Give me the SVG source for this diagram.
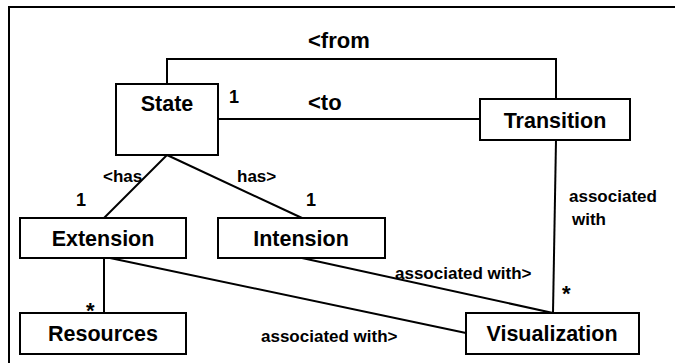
<svg xmlns="http://www.w3.org/2000/svg" width="675" height="363" viewBox="0 0 675 363">
  <style>
    .box { fill: #ffffff; stroke: #000000; stroke-width: 2; }
    .conn { fill: none; stroke: #000000; stroke-width: 2; }
    .frame { fill: none; stroke: #000000; stroke-width: 2; }
    text { font-family: "Liberation Sans", Arial, sans-serif; font-weight: bold; fill: #000000; }
    .title { font-size: 21.5px; text-anchor: middle; }
    .role { font-size: 22px; }
    .lbl { font-size: 17px; }
    .mult { font-size: 18px; }
    .star { font-size: 22px; }
  </style>

  <rect width="675" height="363" fill="#ffffff"/>

  <!-- outer frame (top and left edges) -->
  <polyline class="frame" points="9,363 9,7 675,7"/>

  <!-- associations -->
  <g id="connectors">
    <polyline class="conn" points="167,84 167,59 556,59 556,99"/>
    <line class="conn" x1="218" y1="119" x2="480" y2="119"/>
    <line class="conn" x1="167" y1="155" x2="104" y2="218"/>
    <line class="conn" x1="167" y1="155" x2="302" y2="218"/>
    <line class="conn" x1="556" y1="140" x2="553" y2="313"/>
    <line class="conn" x1="104" y1="258" x2="104" y2="313"/>
    <line class="conn" x1="110" y1="258" x2="466" y2="333"/>
    <line class="conn" x1="302" y1="258" x2="553" y2="313"/>

    <text class="role" x="308" y="48">&lt;from</text>
    <text class="role" x="308" y="110">&lt;to</text>
    <text class="mult" x="229" y="103">1</text>
    <text class="lbl" x="103" y="182">&lt;has</text>
    <text class="lbl" x="237" y="182">has&gt;</text>
    <text class="mult" x="76" y="206">1</text>
    <text class="mult" x="306" y="206">1</text>
    <text class="star" x="86" y="318">*</text>
    <text class="star" x="562" y="301">*</text>
    <text class="lbl" x="569" y="202">associated</text>
    <text class="lbl" x="572" y="225">with</text>
    <text class="lbl" x="395" y="279">associated with&gt;</text>
    <text class="lbl" x="261" y="342">associated with&gt;</text>
  </g>

  <g id="state">
    <rect class="box" x="116" y="84" width="102" height="71"/>
    <text class="title" x="167" y="111">State</text>
  </g>

  <g id="transition">
    <rect class="box" x="480" y="99" width="150" height="41"/>
    <text class="title" x="555" y="128">Transition</text>
  </g>

  <g id="extension">
    <rect class="box" x="20" y="218" width="166" height="40"/>
    <text class="title" x="103" y="246">Extension</text>
  </g>

  <g id="intension">
    <rect class="box" x="218" y="218" width="167" height="40"/>
    <text class="title" x="301" y="246">Intension</text>
  </g>

  <g id="resources">
    <rect class="box" x="20" y="313" width="166" height="41"/>
    <text class="title" x="103" y="341">Resources</text>
  </g>

  <g id="visualization">
    <rect class="box" x="466" y="313" width="173" height="41"/>
    <text class="title" x="552" y="341">Visualization</text>
  </g>
</svg>
